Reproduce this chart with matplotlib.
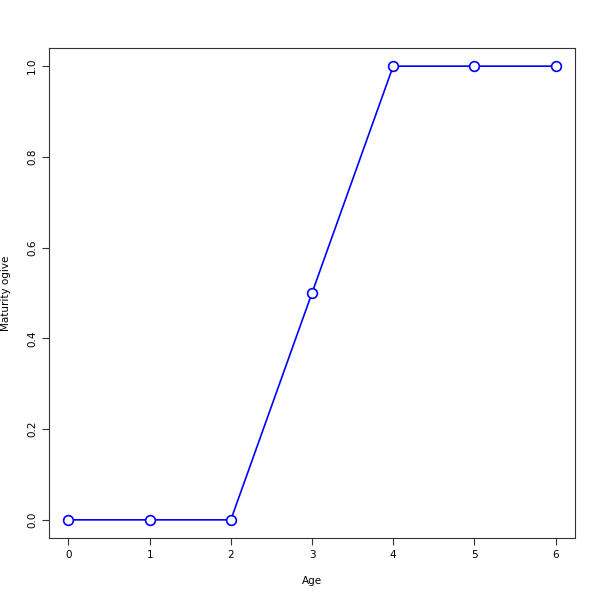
import matplotlib
matplotlib.use("Agg")
import matplotlib.pyplot as plt

ages = [0, 1, 2, 3, 4, 5, 6]
maturity = [0.0, 0.0, 0.0, 0.5, 1.0, 1.0, 1.0]

fig = plt.figure(figsize=(6, 6), dpi=100)
ax = fig.add_axes([49 / 600, 62 / 600, 526 / 600, 490 / 600])

ax.plot(ages, maturity, color="blue", linewidth=1.2, marker="o",
        markersize=7, markerfacecolor="white", markeredgecolor="blue",
        markeredgewidth=1.2)

ax.set_xlim(-0.24, 6.24)
ax.set_ylim(-0.04, 1.04)
ax.set_xticks(ages)
ax.set_yticks([0.0, 0.2, 0.4, 0.6, 0.8, 1.0])
ax.set_yticklabels(["0.0", "0.2", "0.4", "0.6", "0.8", "1.0"], rotation=90, va="center")
ax.tick_params(labelsize=7.5, length=5, width=0.8, color="#333333")

ax.set_xlabel("Age", fontsize=7.5, labelpad=12)
ax.set_ylabel("Maturity ogive", fontsize=7.5, labelpad=12)

for s in ax.spines.values():
    s.set_color("#333333")
    s.set_linewidth(0.8)

fig.savefig("out.png", dpi=100)
